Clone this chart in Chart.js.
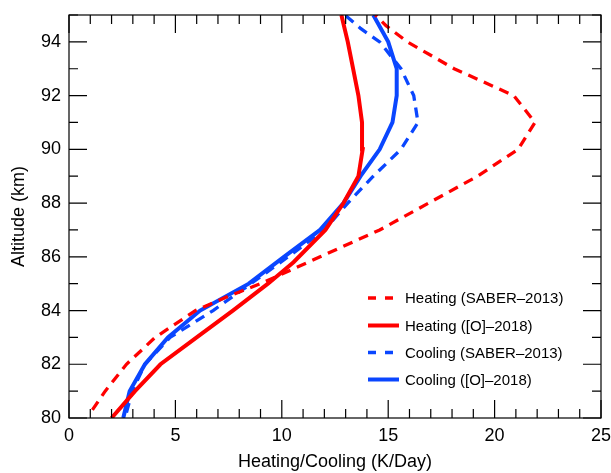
<!DOCTYPE html>
<html><head><meta charset="utf-8">
<script src="https://cdn.jsdelivr.net/npm/chart.js@4"></script>
<style>html,body{margin:0;padding:0;background:#fff}</style>
</head><body>
<canvas id="c" width="611" height="473"></canvas>
<script>
// ---- data ----
const heatSaberAlt = [80.3, 81, 82, 83, 84, 84.5, 85, 86, 87, 88, 89, 90, 91, 92, 93, 94, 94.6, 95];
const heatSaberVal = [1.1, 1.7, 2.7, 4.05, 5.95, 7.4, 9.0, 11.8, 14.6, 16.9, 19.2, 21.1, 21.9, 20.9, 18.1, 15.9, 14.9, 14.4];

const heatOAlt = [80, 81, 82, 83, 84, 85, 85.8, 87, 88, 89, 90, 91, 92, 93, 94, 95];
const heatOVal = [2.0, 3.1, 4.3, 6.0, 7.7, 9.35, 10.55, 12.05, 12.9, 13.6, 13.8, 13.77, 13.6, 13.35, 13.1, 12.8];

const coolSaberAlt = [80.2, 81, 82, 83, 84, 85, 86, 87, 88, 89, 90, 91, 92, 93, 94, 94.5, 95];
const coolSaberVal = [2.7, 2.97, 3.57, 4.75, 6.77, 8.55, 10.3, 12.0, 13.1, 14.3, 15.6, 16.4, 16.2, 15.6, 14.6, 13.7, 12.97];

const coolOAlt = [80, 81, 82, 83, 84, 85, 86, 87, 88, 89, 90, 91, 92, 93, 94, 95];
const coolOVal = [2.55, 2.85, 3.57, 4.65, 6.16, 8.45, 10.1, 11.8, 12.9, 13.7, 14.6, 15.2, 15.4, 15.4, 15.0, 14.3];

const seriesNames = ['Heating (SABER\u20132013)', 'Heating ([O]\u20132018)', 'Cooling (SABER\u20132013)', 'Cooling ([O]\u20132018)'];
const xTickLabels = [0, 5, 10, 15, 20, 25];
const yTickLabels = [80, 82, 84, 86, 88, 90, 92, 94];
const xTitle = 'Heating/Cooling (K/Day)';
const yTitle = 'Altitude (km)';

const RED = '#ff0000', BLUE = '#0a46ff';
const FONT = 'Liberation Sans, Arial, Helvetica, sans-serif';

function pts(alts, vals){ return alts.map((a,i)=>({x: vals[i], y: a})); }

const frame = {
  id: 'frame',
  afterDraw(chart){
    const {ctx, chartArea:a, scales:{x, y}} = chart;
    ctx.save();
    ctx.strokeStyle = '#000'; ctx.lineWidth = 1.2;
    ctx.strokeRect(a.left, a.top, a.right - a.left, a.bottom - a.top);
    ctx.beginPath();
    for (let v = 0; v <= 25; v++) {
      const p = x.getPixelForValue(v), len = v % 5 === 0 ? 18 : 9;
      ctx.moveTo(p, a.bottom); ctx.lineTo(p, a.bottom - len);
      ctx.moveTo(p, a.top); ctx.lineTo(p, a.top + len);
    }
    for (let v = 80; v <= 95; v++) {
      const p = y.getPixelForValue(v), len = v % 2 === 0 ? 18 : 9;
      ctx.moveTo(a.left, p); ctx.lineTo(a.left + len, p);
      ctx.moveTo(a.right, p); ctx.lineTo(a.right - len, p);
    }
    ctx.stroke();
    ctx.restore();
  }
};

const legendIn = {
  id: 'legendIn',
  afterDatasetsDraw(chart){
    const {ctx} = chart;
    ctx.save();
    ctx.font = '15px ' + FONT;
    ctx.textBaseline = 'middle';
    ctx.fillStyle = '#000';
    const rows = [298, 325.5, 352.5, 379.5];
    chart.data.datasets.forEach((ds, i) => {
      const yy = rows[i];
      ctx.strokeStyle = ds.borderColor;
      ctx.lineWidth = ds.borderWidth;
      ctx.beginPath();
      if (ds.borderDash) {
        ctx.moveTo(368, yy); ctx.lineTo(376, yy);
        ctx.moveTo(385, yy); ctx.lineTo(393, yy);
      } else {
        ctx.moveTo(368, yy); ctx.lineTo(399, yy);
      }
      ctx.stroke();
      ctx.fillText(ds.label, 405, yy + 1);
    });
    ctx.restore();
  }
};

function noPad(s){ s.paddingLeft = 0; s.paddingRight = 0; s.paddingTop = 0; s.paddingBottom = 0; }

new Chart(document.getElementById('c'), {
  type: 'scatter',
  data: {
    datasets: [
      {label: seriesNames[0], data: pts(heatSaberAlt, heatSaberVal), borderColor: RED, borderWidth: 3.3, borderDash: [10, 7]},
      {label: seriesNames[1], data: pts(heatOAlt, heatOVal), borderColor: RED, borderWidth: 4},
      {label: seriesNames[2], data: pts(coolSaberAlt, coolSaberVal), borderColor: BLUE, borderWidth: 3.3, borderDash: [10, 7]},
      {label: seriesNames[3], data: pts(coolOAlt, coolOVal), borderColor: BLUE, borderWidth: 4}
    ].map(d => Object.assign(d, {showLine: true, pointRadius: 0, fill: false, tension: 0, backgroundColor: d.borderColor}))
  },
  options: {
    responsive: false,
    animation: false,
    devicePixelRatio: 1,
    layout: {padding: {left: 0, top: 15, right: 10, bottom: 0}},
    plugins: {legend: {display: false}, tooltip: {enabled: false}},
    scales: {
      x: {
        type: 'linear', min: 0, max: 25,
        afterBuildTicks: s => { s.ticks = xTickLabels.map(v => ({value: v})); },
        afterFit: s => { s.height = 55; noPad(s); },
        grid: {display: false, drawTicks: false},
        border: {display: false},
        ticks: {color: '#000', font: {family: FONT, size: 18}, padding: 7, maxRotation: 0},
        title: {display: true, text: xTitle, color: '#000', font: {family: FONT, size: 18}, padding: {top: 0, bottom: 0}}
      },
      y: {
        type: 'linear', min: 80, max: 95,
        afterBuildTicks: s => { s.ticks = yTickLabels.map(v => ({value: v})); },
        afterFit: s => { s.width = 69; noPad(s); },
        grid: {display: false, drawTicks: false},
        border: {display: false},
        ticks: {color: '#000', font: {family: FONT, size: 18}, padding: 8},
        title: {display: true, text: yTitle, color: '#000', font: {family: FONT, size: 18}, padding: {top: 8, bottom: 0}}
      }
    }
  },
  plugins: [frame, legendIn]
});
</script>
</body></html>
